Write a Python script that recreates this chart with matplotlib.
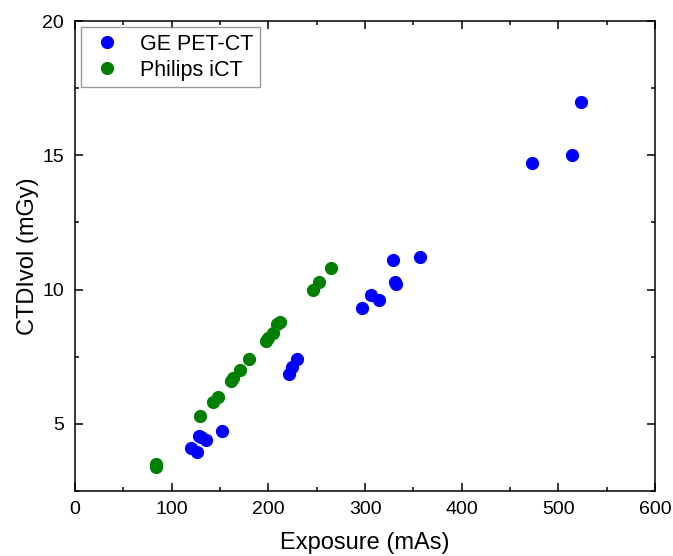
import matplotlib
matplotlib.use('Agg')
import matplotlib.pyplot as plt
from matplotlib.ticker import MultipleLocator

plt.rcParams['font.family'] = ['Liberation Sans', 'DejaVu Sans']

# GE PET-CT: Belichtung (mAs) und CTDIvol (mGy)
ge_mas = [120, 126, 128, 130, 135, 152, 221, 224, 230, 297, 306, 314, 329, 331, 332, 357, 473, 514, 523]
ge_ctdi = [4.1, 3.95, 4.55, 4.5, 4.4, 4.75, 6.85, 7.1, 7.4, 9.3, 9.8, 9.6, 11.1, 10.3, 10.2, 11.2, 14.7, 15.0, 17.0]

# Philips iCT
ph_mas = [84, 84, 129, 143, 148, 161, 163, 171, 180, 198, 200, 205, 209, 212, 246, 252, 265]
ph_ctdi = [3.4, 3.5, 5.3, 5.8, 6.0, 6.6, 6.7, 7.0, 7.4, 8.1, 8.2, 8.4, 8.7, 8.8, 10.0, 10.3, 10.8]

fig = plt.figure(figsize=(6.73, 5.56), dpi=100)
ax = fig.add_axes([0.1114, 0.117, 0.862, 0.845])

ax.plot(ge_mas, ge_ctdi, linestyle='none', marker='o', ms=8.5, color='#0000ff', label='GE PET-CT')
ax.plot(ph_mas, ph_ctdi, linestyle='none', marker='o', ms=8.5, color='#008000', label='Philips iCT')

ax.set_xlim(0, 600)
ax.set_ylim(2.5, 20)
ax.xaxis.set_major_locator(MultipleLocator(100))
ax.xaxis.set_minor_locator(MultipleLocator(50))
ax.yaxis.set_major_locator(MultipleLocator(5))
ax.yaxis.set_minor_locator(MultipleLocator(2.5))
ax.tick_params(which='both', direction='in', top=True, right=True, width=1.1, labelsize=14)
ax.tick_params(which='major', length=6)
ax.tick_params(which='minor', length=3)
ax.tick_params(axis='x', pad=7)
ax.tick_params(axis='y', pad=8)
for s in ax.spines.values():
    s.set_linewidth(1.1)

ax.set_xlabel('Exposure (mAs)', fontsize=17, labelpad=10)
ax.set_ylabel('CTDIvol (mGy)', fontsize=17, labelpad=2)

leg = ax.legend(loc='upper left', fontsize=15.5, fancybox=False, edgecolor='#808080',
                borderaxespad=0.28, handlelength=1.8, handletextpad=0.63,
                borderpad=0.3, labelspacing=0.25)
leg.get_frame().set_linewidth(1.0)

fig.savefig('out.png', dpi=100)
